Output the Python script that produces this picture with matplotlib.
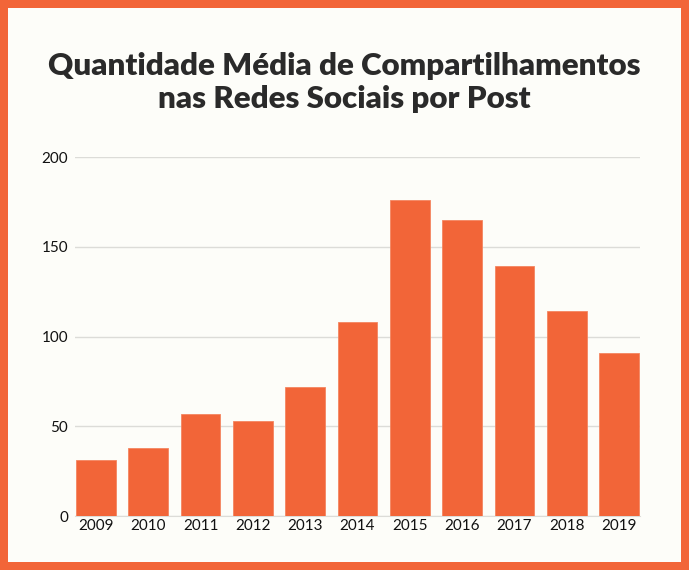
import matplotlib.pyplot as plt
from matplotlib.patches import Rectangle

# data
years = ['2009', '2010', '2011', '2012', '2013', '2014', '2015', '2016', '2017', '2018', '2019']
shares = [31, 38, 57, 53, 72, 108, 176, 165, 139, 114, 91]
y_ticks = [0, 50, 100, 150, 200]

orange = '#F26538'
cream = '#FDFDF9'

fig = plt.figure(figsize=(6.89, 5.70), dpi=100, facecolor=orange)
fig.patches.append(Rectangle((8 / 689, 8 / 570), 673 / 689, 554 / 570,
                             transform=fig.transFigure, facecolor=cream,
                             edgecolor='none', zorder=-1))

ax = fig.add_axes([75 / 689, 54 / 570, 565 / 689, 359 / 570])
ax.set_zorder(2)
ax.patch.set_alpha(0)

x = range(len(years))
ax.bar(x, shares, width=0.76, color=orange, edgecolor='#F48560', linewidth=0.6, zorder=3)

ax.set_xlim(-0.4, len(years) - 0.6)
ax.set_ylim(0, 200)
ax.set_yticks(y_ticks)
ax.set_xticks(list(x))
ax.set_xticklabels(years)
ax.grid(axis='y', color='#DCDCD8', linewidth=1.0, zorder=0)
ax.set_axisbelow(True)
for s in ['top', 'right', 'left']:
    ax.spines[s].set_visible(False)
ax.spines['bottom'].set_color('#DCDCD8')
ax.tick_params(length=0, labelsize=11, colors='#111111', pad=2)
ax.tick_params(axis='y', pad=5)
for lab in ax.get_xticklabels() + ax.get_yticklabels():
    lab.set_fontfamily('Lato')

fig.text(0.5, 0.855, 'Quantidade Média de Compartilhamentos\nnas Redes Sociais por Post',
         ha='center', va='center', fontsize=22.5, fontweight='heavy', family='Lato',
         color='#2A2A2A', linespacing=1.2, zorder=3)

fig.savefig('out.png', dpi=100, facecolor=orange)
